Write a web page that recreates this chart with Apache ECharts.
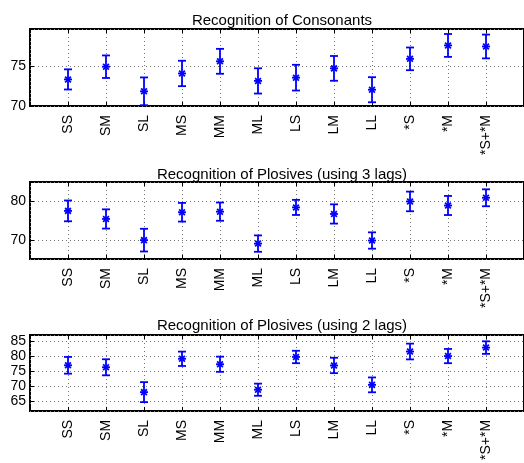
<!DOCTYPE html>
<html>
<head>
<meta charset="utf-8">
<script src="https://cdn.jsdelivr.net/npm/echarts@6/dist/echarts.min.js"></script>
<style>
  html, body { margin: 0; padding: 0; background: #fff; }
  #chart { width: 524px; height: 463px; }
</style>
</head>
<body>
<div id="chart"></div>
<script>
// categories (x axis labels, positions 1..12)
var categories = ["SS", "SM", "SL", "MS", "MM", "ML", "LS", "LM", "LL", "*S", "*M", "*S+*M"];

// recognition of consonants: mean and half error bar
var consMean = [73.35, 74.95, 71.85, 74.1, 75.63, 73.16, 73.57, 74.74, 72.05, 75.94, 77.63, 77.5];
var consErr = [1.27, 1.42, 1.75, 1.6, 1.57, 1.59, 1.62, 1.56, 1.58, 1.43, 1.44, 1.5];

// recognition of plosives, 3 lags
var plos3Mean = [77.5, 75.4, 69.9, 77.15, 77.3, 69.0, 78.4, 76.7, 69.8, 79.95, 78.9, 80.9];
var plos3Err = [2.7, 2.5, 2.95, 2.43, 2.37, 2.13, 1.96, 2.5, 2.12, 2.55, 2.48, 2.2];

// recognition of plosives, 2 lags
var plos2Mean = [76.95, 76.3, 68.1, 79.1, 77.3, 68.9, 79.7, 76.9, 70.5, 81.5, 80.0, 82.8];
var plos2Err = [2.76, 2.65, 3.3, 2.37, 2.5, 2.0, 2.05, 2.54, 2.45, 2.6, 2.35, 2.07];

var titles = ["Recognition of Consonants", "Recognition of Plosives (using 3 lags)", "Recognition of Plosives (using 2 lags)"];

var FONT = "Liberation Sans";
var BLUE = "#0000ff";

var panels = [
  { mean: consMean, err: consErr, top: 29, height: 77, min: 70, max: 79.7, split: 2, minLabel: true, titleTop: 8 },
  { mean: plos3Mean, err: plos3Err, top: 182, height: 77, min: 65, max: 85, split: 2, minLabel: false, titleTop: 162 },
  { mean: plos2Mean, err: plos2Err, top: 335, height: 77, min: 61.9, max: 86.95, split: 5, minLabel: false, titleTop: 313 }
];

// errorbar with asterisk marker
function renderErr(params, api) {
  var x = api.value(0);
  var m = api.value(1);
  var e = api.value(2);
  var c = api.coord([x, m]);
  var lo = api.coord([x, m - e]);
  var hi = api.coord([x, m + e]);
  var cap = 4, r = 4, d = r * 0.72;
  var st = { stroke: BLUE, lineWidth: 1.8 };
  var lines = [
    [lo[0], lo[1], hi[0], hi[1]],
    [lo[0] - cap, lo[1], lo[0] + cap, lo[1]],
    [hi[0] - cap, hi[1], hi[0] + cap, hi[1]],
    [c[0] - r, c[1], c[0] + r, c[1]],
    [c[0] - d, c[1] - d, c[0] + d, c[1] + d],
    [c[0] - d, c[1] + d, c[0] + d, c[1] - d]
  ];
  return {
    type: "group",
    children: lines.map(function (l) {
      return { type: "line", shape: { x1: l[0], y1: l[1], x2: l[2], y2: l[3] }, style: st };
    })
  };
}

var grid = [], xAxis = [], yAxis = [], series = [], title = [];
var dotted = { color: "#777", width: 1, type: [1, 3] };

panels.forEach(function (p, i) {
  grid.push({
    left: 30, top: p.top, width: 497, height: p.height,
    show: true, borderColor: "#000", borderWidth: 2, backgroundColor: "transparent"
  });
  title.push({
    text: titles[i], left: 277, top: p.titleTop, textAlign: "center",
    textStyle: { fontFamily: FONT, fontSize: 15, fontWeight: "normal", color: "#000" }
  });
  xAxis.push({
    type: "value", gridIndex: i, min: 0, max: 13, interval: 1,
    axisLine: { show: false },
    axisTick: { inside: true, length: 4, lineStyle: { color: "#000" } },
    splitLine: { show: true, lineStyle: dotted },
    axisLabel: {
      rotate: 90, margin: 9, color: "#000", fontFamily: FONT, fontSize: 14,
      formatter: function (v) { return categories[v - 1] || ""; }
    }
  });
  xAxis.push({
    type: "value", gridIndex: i, min: 0, max: 13, interval: 1, position: "top",
    axisLine: { show: false }, axisLabel: { show: false }, splitLine: { show: false },
    axisTick: { inside: true, length: 4, lineStyle: { color: "#000" } }
  });
  yAxis.push({
    type: "value", gridIndex: i, min: p.min, max: p.max, splitNumber: p.split,
    axisLine: { show: false },
    axisTick: { inside: true, length: 4, lineStyle: { color: "#000" } },
    splitLine: { show: true, lineStyle: dotted },
    axisLabel: {
      showMinLabel: p.minLabel, showMaxLabel: false, margin: 4,
      color: "#000", fontFamily: FONT, fontSize: 14
    }
  });
  series.push({
    type: "custom", xAxisIndex: 2 * i, yAxisIndex: i,
    renderItem: renderErr, clip: false,
    data: p.mean.map(function (m, k) { return [k + 1, m, p.err[k]]; })
  });
});

var chart = echarts.init(document.getElementById("chart"));
chart.setOption({
  animation: false,
  title: title,
  grid: grid,
  xAxis: xAxis,
  yAxis: yAxis,
  series: series
});
</script>
</body>
</html>
